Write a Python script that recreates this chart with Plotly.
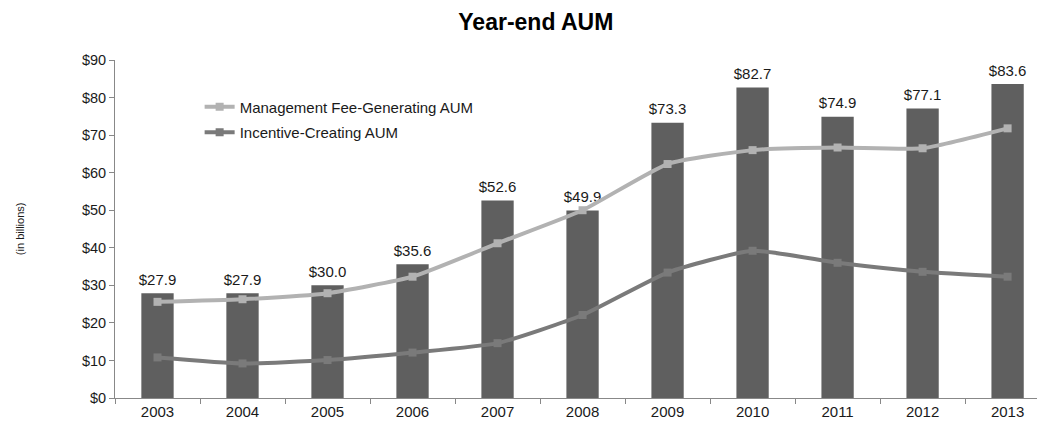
import plotly.graph_objects as go

years = ["2003", "2004", "2005", "2006", "2007", "2008", "2009", "2010", "2011", "2012", "2013"]
total_aum = [27.9, 27.9, 30.0, 35.6, 52.6, 49.9, 73.3, 82.7, 74.9, 77.1, 83.6]
mgmt_fee_aum = [25.6, 26.3, 27.9, 32.3, 41.2, 50.0, 62.3, 66.0, 66.7, 66.5, 71.8]
incentive_aum = [10.8, 9.2, 10.1, 12.1, 14.6, 22.1, 33.4, 39.2, 36.0, 33.6, 32.3]
y_ticks = list(range(0, 100, 10))
y_tick_labels = ["$" + str(v) for v in y_ticks]

font = "Liberation Sans, Arial, sans-serif"

fig = go.Figure()
fig.add_trace(go.Bar(
    x=years, y=total_aum, width=0.38,
    marker=dict(color="#5f5f5f", line=dict(width=0)),
    showlegend=False, hoverinfo="skip",
))
fig.add_trace(go.Scatter(
    x=years, y=total_aum, mode="markers+text",
    marker=dict(size=6, opacity=0),
    text=["$%.1f" % v for v in total_aum], textposition="top center",
    textfont=dict(size=15, color="#1a1a1a", family=font),
    cliponaxis=False, showlegend=False,
))
fig.add_trace(go.Scatter(
    x=years, y=mgmt_fee_aum, mode="lines+markers", name="Management Fee-Generating AUM",
    legendgroup="a",
    line=dict(color="#b2b2b2", width=4, shape="spline", smoothing=0.5),
    marker=dict(symbol="square", size=8, color="#b2b2b2"),
))
fig.add_trace(go.Scatter(
    x=years, y=incentive_aum, mode="lines+markers", name="Incentive-Creating AUM",
    legendgroup="b",
    line=dict(color="#7a7a7a", width=4, shape="spline", smoothing=0.5),
    marker=dict(symbol="square", size=8, color="#7a7a7a"),
))

fig.update_layout(
    width=1037, height=415,
    margin=dict(l=107, r=0, t=52, b=25, autoexpand=False),
    paper_bgcolor="white", plot_bgcolor="white",
    font=dict(family=font, size=14, color="#1a1a1a"),
    title=dict(text="<b>Year-end AUM</b>", x=0.509, xanchor="center", y=0.966, yanchor="middle",
               font=dict(size=23, family=font, color="black")),
    legend=dict(x=0.091, y=0.91, xanchor="left", yanchor="top", bgcolor="rgba(0,0,0,0)",
                font=dict(size=15, family=font, color="#1a1a1a"), tracegroupgap=3,
                itemwidth=30),
    bargap=0.6,
)
fig.update_xaxes(
    type="category", range=[-0.5, 10.44], tickson="boundaries", automargin=False,
    ticks="outside", ticklen=5, tickcolor="#888", showline=True, linecolor="#888", linewidth=1,
    showgrid=False, tickfont=dict(size=15, family=font, color="#1a1a1a"),
)
fig.update_yaxes(
    range=[0, 90], tickvals=y_ticks, ticktext=y_tick_labels, automargin=False,
    ticks="outside", ticklen=5, tickcolor="#888", showline=True, linecolor="#888", linewidth=1,
    showgrid=False, zeroline=False, tickfont=dict(size=14.5, family=font, color="#1a1a1a"),
)
fig.add_annotation(
    text="(in billions)", xref="paper", yref="paper", x=-0.102, y=0.5, xanchor="center",
    yanchor="middle", textangle=-90, showarrow=False,
    font=dict(size=11, family=font, color="#1a1a1a"),
)
fig.write_html("out.html")
